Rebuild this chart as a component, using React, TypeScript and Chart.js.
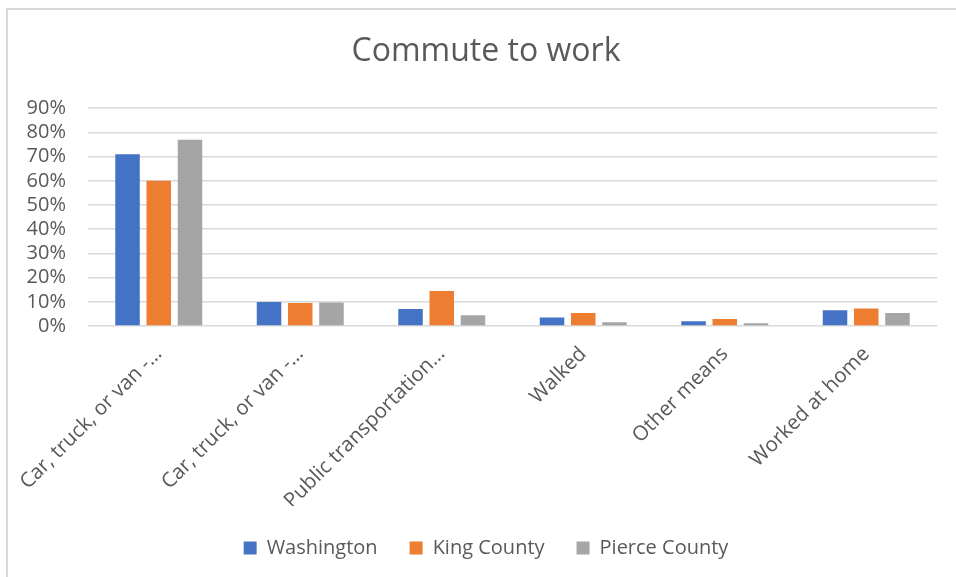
import React, { useEffect, useRef } from "react";
import { Chart, registerables } from "chart.js";

Chart.register(...registerables);

const categories = [
  "Car, truck, or van -…",
  "Car, truck, or van -…",
  "Public transportation…",
  "Walked",
  "Other means",
  "Worked at home",
];
const washington = [71.0, 9.9, 7.0, 3.5, 2.0, 6.5];
const kingCounty = [60.0, 9.5, 14.5, 5.4, 2.9, 7.2];
const pierceCounty = [77.0, 9.7, 4.4, 1.5, 1.1, 5.4];
const seriesNames = ["Washington", "King County", "Pierce County"];
const seriesColors = ["#4472C4", "#ED7D31", "#A5A5A5"];
const title = "Commute to work";

const TEXT = "#595959";
const FONT = "'Open Sans', sans-serif";

const borderPlugin = {
  id: "outerBorder",
  beforeDraw(chart: any) {
    const ctx = chart.ctx;
    ctx.save();
    ctx.fillStyle = "#ffffff";
    ctx.fillRect(0, 0, chart.width, chart.height);
    ctx.strokeStyle = "#d9d9d9";
    ctx.lineWidth = 2;
    ctx.beginPath();
    ctx.moveTo(7, chart.height);
    ctx.lineTo(7, 9);
    ctx.lineTo(chart.width, 9);
    ctx.stroke();
    ctx.restore();
  },
};

export default function App() {
  const ref = useRef<HTMLCanvasElement | null>(null);
  useEffect(() => {
    if (!ref.current) return;
    const chart = new Chart(ref.current, {
      type: "bar",
      data: {
        labels: categories,
        datasets: [washington, kingCounty, pierceCounty].map((d, i) => ({
          label: seriesNames[i],
          data: d,
          backgroundColor: seriesColors[i],
          borderWidth: 0,
          categoryPercentage: 0.662,
          barPercentage: 0.785,
        })),
      },
      options: {
        responsive: false,
        animation: false,
        devicePixelRatio: 1,
        layout: { padding: { left: 20, right: 4, top: 0, bottom: 9 } },
        plugins: {
          title: {
            display: true,
            text: title,
            color: TEXT,
            font: { family: FONT, size: 32, weight: "normal" },
            padding: { top: 33, bottom: 36.8 },
          },
          legend: {
            position: "bottom",
            labels: {
              color: TEXT,
              font: { family: FONT, size: 20 },
              boxWidth: 13,
              boxHeight: 13,
              padding: 32,
            },
          },
          tooltip: { enabled: false },
        },
        scales: {
          x: {
            grid: { display: false },
            border: { display: false },
            ticks: {
              color: TEXT,
              font: { family: FONT, size: 20.5 },
              minRotation: 45,
              maxRotation: 45,
              autoSkip: false,
              padding: 8,
            },
            afterFit: (scale: any) => {
              scale.height = 180;
            },
          },
          y: {
            min: 0,
            max: 90,
            grid: { color: "#d9d9d9", lineWidth: 1.5, drawTicks: false },
            border: { display: false },
            ticks: {
              stepSize: 10,
              autoSkip: false,
              color: TEXT,
              font: { family: FONT, size: 20 },
              padding: 22,
              callback: (v: any) => `${v}%`,
            },
            afterFit: (scale: any) => {
              scale.width = 68;
            },
          },
          y2: {
            position: "right",
            min: 0,
            max: 90,
            grid: { display: false, drawTicks: false },
            border: { display: false },
            ticks: { display: false },
            afterFit: (scale: any) => {
              scale.width = 15;
            },
          },
        },
      },
      plugins: [borderPlugin],
    });
    return () => chart.destroy();
  }, []);
  return (
    <div style={{ position: "fixed", left: 0, top: 0, width: 956, height: 577 }}>
      <canvas ref={ref} width={956} height={577} />
    </div>
  );
}
